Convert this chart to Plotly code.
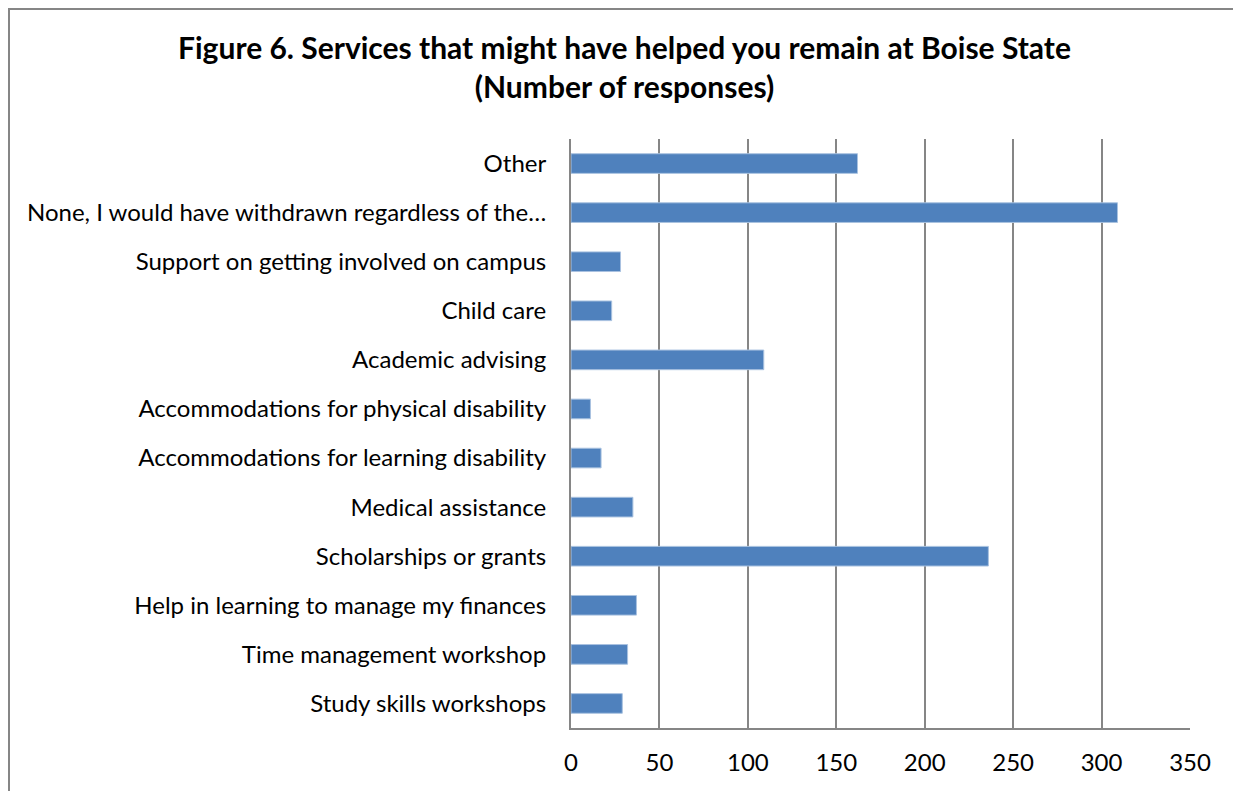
import plotly.graph_objects as go

categories = [
    "Study skills workshops",
    "Time management workshop",
    "Help in learning to manage my finances",
    "Scholarships or grants",
    "Medical assistance",
    "Accommodations for learning disability",
    "Accommodations for physical disability",
    "Academic advising",
    "Child care",
    "Support on getting involved on campus",
    "None, I would have withdrawn regardless of the…",
    "Other",
]
responses = [29, 32, 37, 236, 35, 17, 11, 109, 23, 28, 309, 162]
x_ticks = [0, 50, 100, 150, 200, 250, 300, 350]

OFF = 8  # page body margin
W, H = 1241 - OFF, 791 - OFF
L, R, T, B = 571 - OFF, 1190 - OFF, 139 - OFF, 728 - OFF

fig = go.Figure(
    go.Bar(
        x=responses,
        y=categories,
        orientation="h",
        width=0.4,
        marker=dict(color="#4F81BD", line=dict(color="#A9C2E0", width=1)),
    )
)

# figure-pixel -> paper coordinates
def fx(p):
    return (p - L) / (R - L)

def fy(p):
    return (B - p) / (B - T)

fig.update_layout(
    width=W,
    height=H,
    margin=dict(l=L, r=W - R, t=T, b=H - B, pad=0),
    paper_bgcolor="white",
    plot_bgcolor="white",
    showlegend=False,
    font=dict(family="Lato, Carlito, sans-serif", color="black", size=24),
    title=dict(
        text="<b>Figure 6. Services that might have helped you remain at Boise State<br>(Number of responses)</b>",
        x=0.5,
        xanchor="center",
        y=1 - 51 / H,
        yanchor="top",
        font=dict(size=30, family="Lato, Carlito, sans-serif", color="black"),
    ),
    xaxis=dict(
        range=[0, 350],
        tickvals=x_ticks,
        ticktext=[str(v) for v in x_ticks],
        showgrid=True,
        gridcolor="#868686",
        gridwidth=2,
        zeroline=False,
        showline=True,
        linecolor="#868686",
        linewidth=2,
        ticks="",
        ticklabelstandoff=12,
        tickfont=dict(size=24),
        fixedrange=True,
    ),
    yaxis=dict(
        categoryorder="array",
        categoryarray=categories,
        showgrid=False,
        zeroline=False,
        showline=True,
        linecolor="#868686",
        linewidth=2,
        ticks="",
        ticklabelstandoff=18,
        tickfont=dict(size=24),
        fixedrange=True,
    ),
    shapes=[
        dict(
            type="path",
            xref="paper",
            yref="paper",
            path=f"M {fx(1)},{fy(H + 20)} L {fx(1)},{fy(1)} L {fx(1232)},{fy(1)} L {fx(1232)},{fy(H + 20)}",
            line=dict(color="#868686", width=2),
            layer="above",
        )
    ],
)

fig.write_html("out.html")
